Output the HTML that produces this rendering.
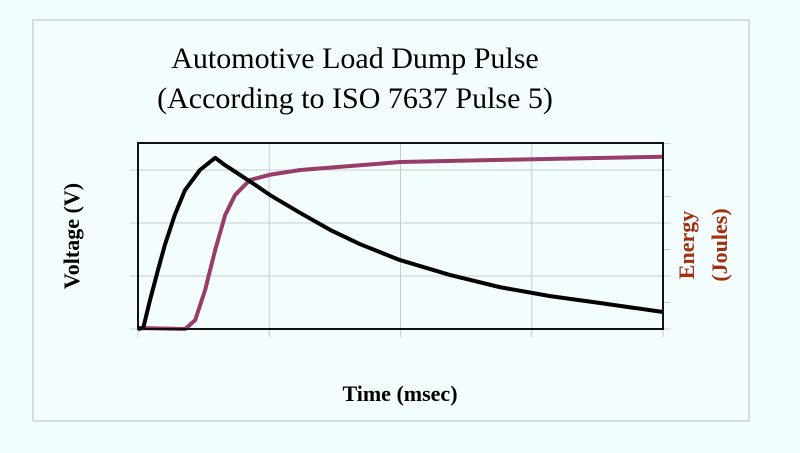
<!DOCTYPE html>
<html><head><meta charset="utf-8"><style>
body{margin:0;background:#f2fdfe;}
svg{display:block;font-family:"Liberation Serif",serif;}
</style></head><body>
<svg width="800" height="453" viewBox="0 0 800 453">
<rect x="0" y="0" width="800" height="453" fill="#f2fdfe"/>
<rect x="33" y="20" width="716" height="401" fill="#f3fdfe" stroke="#bcc8cc" stroke-width="1.2"/>
<text x="355" y="68" font-size="30" text-anchor="middle">Automotive Load Dump Pulse</text>
<text x="355" y="108" font-size="30" text-anchor="middle">(According to ISO 7637 Pulse 5)</text>
<g id="grid"></g>
<g id="series"></g>
<rect x="138" y="143" width="525" height="186" fill="none" stroke="#111" stroke-width="2"/>
<text transform="translate(79,236) rotate(-90)" font-size="22" font-weight="bold" text-anchor="middle">Voltage (V)</text>
<text transform="translate(694,245) rotate(-90)" font-size="22" font-weight="bold" fill="#a0300f" text-anchor="middle">Energy</text>
<text transform="translate(727,245) rotate(-90)" font-size="22" font-weight="bold" fill="#a0300f" text-anchor="middle">(Joules)</text>
<text x="400" y="401" font-size="22" font-weight="bold" text-anchor="middle">Time (msec)</text>
</svg>
<script>
const vTime=[0,1,2.3,3.8,5.1,7,8.95,11.8,14.7,16.6,19.4,22.3,25.1,30.9,36.6,42.3,49.9,59.4,68.9,78.5,88,100];
const voltage=[0,0.02,0.55,1.11,1.58,2.15,2.62,3.0,3.23,3.09,2.91,2.72,2.53,2.19,1.87,1.60,1.30,1.02,0.79,0.62,0.49,0.32];
const eTime=[0,9,10.9,12.8,14.7,16.6,18.5,21.3,25.1,30.9,49.9,68.9,100];
const energy=[0.02,0,0.17,0.74,1.49,2.15,2.53,2.81,2.91,3.0,3.15,3.19,3.25];
const xGrid=[25,50,75,100];
const yGrid=[1,2,3];
const y2Ticks=[0,0.5,1,1.5,2,2.5,3,3.5];
const NS="http://www.w3.org/2000/svg";
const X=t=>138+t*5.25;
const Y=v=>329-v*53;
const grid=document.getElementById('grid');
const ser=document.getElementById('series');
function ln(p,x1,y1,x2,y2,c,w){const l=document.createElementNS(NS,'line');l.setAttribute('x1',x1);l.setAttribute('y1',y1);l.setAttribute('x2',x2);l.setAttribute('y2',y2);l.setAttribute('stroke',c);l.setAttribute('stroke-width',w);p.appendChild(l);return l;}
xGrid.forEach(t=>{const l=ln(grid,X(t),143,X(t),337,'#c4cdd0',1);

});
[0].concat(xGrid).forEach(t=>{const l=ln(grid,X(t),329,X(t),337,'#c4cdd0',1);

});
yGrid.forEach(v=>{const l=ln(grid,130,Y(v),663,Y(v),'#c4cdd0',1);

});
ln(grid,130,329,138,329,'#c4cdd0',1);
y2Ticks.forEach(v=>{const l=ln(grid,663,Y(v),671,Y(v),'#c4cdd0',1);

});
function path(ts,vs,c,name){const p=document.createElementNS(NS,'polyline');
p.setAttribute('points',ts.map((t,i)=>X(t)+','+Y(vs[i])).join(' '));
p.setAttribute('fill','none');p.setAttribute('stroke',c);p.setAttribute('stroke-width',4);p.setAttribute('stroke-linejoin','round');


ser.appendChild(p);}
path(eTime,energy,'#983d6a','energy-line');
path(vTime,voltage,'#000','voltage-line');
</script>
</body></html>
